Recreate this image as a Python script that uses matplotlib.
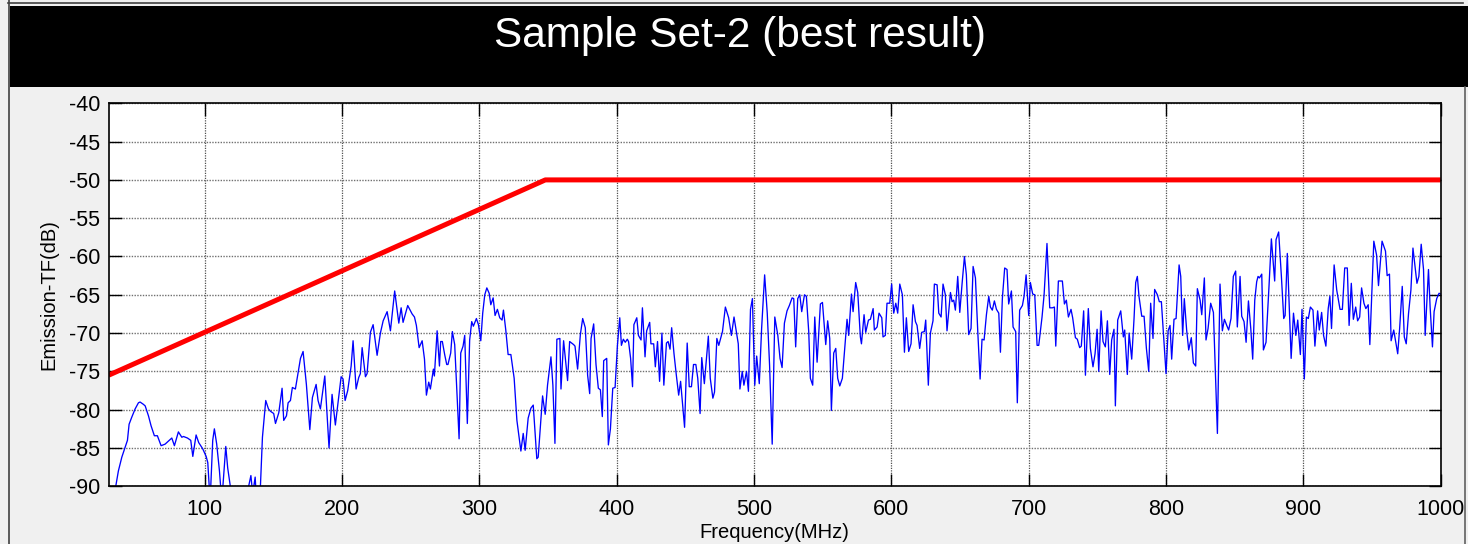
import matplotlib
matplotlib.use('Agg')
import matplotlib.pyplot as plt
from matplotlib.patches import Rectangle
from matplotlib.lines import Line2D

plt.rcParams['font.family'] = ['Liberation Sans', 'DejaVu Sans']
plt.rcParams['axes.unicode_minus'] = False

freq_mhz = [
    30.0, 32.5, 34.7, 37.1, 39.6, 42.0, 43.7, 44.9, 46.8, 49.3, 51.7, 52.9, 55.3, 56.6,
    59.0, 60.9, 63.3, 65.5, 68.2, 71.1, 76.0, 77.9, 80.8, 83.3, 84.5, 87.4, 89.8, 91.3,
    93.7, 95.6, 98.5, 101.0, 102.2, 103.9, 105.8, 107.0, 108.7, 110.7, 112.4, 115.3,
    116.7, 118.4, 121.0, 125.0, 129.0, 132.3, 133.6, 134.9, 136.7, 137.4, 140.3, 142.0,
    144.4, 146.4,
    147.8, 150.2, 151.5, 153.9, 156.3, 157.5, 159.5, 160.7, 162.4, 163.8, 166.0, 167.2,
    169.7, 171.6, 174.0, 176.5, 178.4, 181.1, 182.5, 184.2, 187.4, 190.5, 192.7, 195.1,
    199.3, 200.7, 202.2, 204.1, 206.6, 208.0, 210.2, 212.1, 213.3, 214.6, 217.0, 218.2,
    220.6, 222.6, 225.5, 227.9, 229.9, 232.8, 235.2, 238.3, 241.3, 243.0, 244.4, 247.8,
    251.0, 252.7, 254.1, 256.1, 258.3, 260.0, 261.4, 263.1, 264.3, 266.5, 267.2, 269.2,
    270.9,
    271.8, 273.0, 274.7, 276.2, 277.1, 279.1, 280.3, 282.0, 283.5, 285.2, 286.4, 288.1,
    289.3, 291.2, 292.9, 294.4, 295.6, 297.8, 299.3, 301.0, 302.4, 303.9, 305.4, 307.1,
    308.3, 310.0, 311.4, 313.1, 314.8, 316.5, 317.5, 319.2, 320.9, 322.9, 325.3, 327.3,
    330.2, 331.9, 333.3, 335.5, 337.5, 339.2, 341.8, 342.8, 346.0, 347.9, 349.6, 352.1,
    353.5, 355.0, 356.4, 358.6, 359.4, 361.3, 363.3, 364.2, 365.7, 368.6, 369.6, 371.5,
    373.5, 375.2, 377.1, 378.8, 380.3, 381.3, 383.2, 384.9, 386.6, 388.1, 389.5, 390.5,
    392.7, 393.9, 395.4, 397.1, 398.8,
    400.5, 402.2, 403.4, 404.8, 406.2, 407.7, 408.6, 410.1, 411.5, 412.5, 414.6, 415.8,
    417.7, 418.7, 420.6, 421.8, 424.0, 424.9, 426.9, 428.1, 429.7, 431.2, 432.9, 434.3,
    436.2, 437.4, 438.8, 440.0, 441.7, 443.4, 445.1, 446.5, 449.4, 451.3, 452.8, 454.4,
    455.9, 457.6, 459.0, 460.7, 461.9, 463.8, 465.0, 466.7, 468.1, 470.0, 471.2, 472.9,
    474.3, 477.0, 479.1, 481.5, 483.5, 485.4, 487.3, 488.5, 489.7, 491.4, 492.6, 494.5,
    495.9, 497.4, 498.8, 500.5, 501.9, 503.8, 505.5, 507.7, 509.6, 511.3, 513.2, 515.1,
    517.3, 518.9, 520.4,
    522.1, 524.0, 525.7, 527.7, 528.9, 530.3, 531.8, 533.3, 534.7, 536.7, 538.1, 539.8,
    541.0, 542.7, 544.2, 545.9, 548.3, 549.8, 552.2, 553.6, 555.1, 556.3, 558.0, 559.5,
    560.9, 562.4, 564.3, 567.7, 568.9, 570.9, 572.1, 574.0, 575.5, 577.4, 578.2, 580.1,
    581.3, 583.3, 584.7, 586.7, 587.6, 589.6, 591.0, 593.0, 593.9, 595.6, 596.8, 598.8,
    600.2, 601.7, 603.2, 604.6, 606.1, 608.0, 609.5, 610.9, 612.6, 614.3, 615.8, 617.5,
    618.7, 620.6, 622.1, 624.0, 625.0, 626.9, 628.4, 630.3, 631.3, 633.3, 634.5, 636.2,
    637.6, 639.3, 640.5,
    643.0, 644.2, 645.4, 646.6, 648.3, 649.8, 651.5, 653.2, 654.6, 656.3, 658.0, 659.5,
    661.2, 662.9, 664.6, 666.0, 667.5, 669.2, 670.9, 672.1, 673.5, 675.0, 676.5, 678.2,
    679.4, 680.8, 682.5, 684.2, 685.4, 687.4, 688.6, 690.5, 691.7, 693.4, 695.4, 696.6,
    698.1, 700.0, 701.2, 702.9, 704.4, 706.1, 707.3, 709.7, 711.2, 713.3, 715.3, 717.2,
    718.7, 719.7, 721.6, 724.5, 726.0, 727.4, 728.9, 730.8, 732.0, 734.0, 735.4, 737.1,
    738.3, 740.0, 741.3, 743.4, 744.9, 746.8, 748.3, 749.8, 751.0, 752.7, 754.1, 755.8,
    757.3, 759.0, 760.4, 762.1, 763.1, 764.8,
    767.0, 768.9, 769.9, 771.8, 773.1, 775.0, 776.7, 777.9, 779.1, 780.3, 782.3, 784.0,
    785.7, 787.4, 788.8, 790.5, 791.7, 793.7, 795.1, 796.6, 800.0, 801.5, 802.9, 804.1,
    805.8, 807.3, 809.5, 810.7, 812.1, 813.3, 815.0, 816.5, 818.4, 819.9, 821.6, 822.8,
    824.8, 826.0, 827.9, 829.1, 830.6, 832.5, 834.5, 837.4, 839.3, 841.0, 842.5, 844.2,
    845.6, 847.3, 849.0, 850.7, 851.9, 853.9, 855.1, 856.8, 858.3, 860.0, 861.7, 863.1,
    864.6, 866.0, 867.0, 868.0, 869.7, 870.9, 872.8, 875.0, 876.7, 879.1, 880.1, 882.0,
    884.0, 885.7, 886.7, 888.3,
    891.1, 892.8, 894.5, 895.9, 897.8, 899.0, 900.7, 902.2, 903.6, 905.1, 907.0, 908.4,
    910.4, 911.6, 913.3, 914.7, 916.4, 918.1, 919.3, 920.5, 922.4, 924.3, 926.7, 928.4,
    930.1, 932.0, 933.3, 934.9, 936.4, 938.1, 939.5, 941.0, 942.4, 944.1, 945.5, 947.2,
    948.4, 951.3, 953.3, 954.7, 957.3, 959.8, 961.0, 962.7, 963.9, 965.8, 968.7, 970.1,
    972.0, 973.5, 974.9, 976.6, 978.3, 979.8, 982.7, 984.1, 985.8, 987.5, 988.7, 991.1,
    992.3, 994.0, 995.2, 997.1, 998.8, 1000.0,
]
level_db = [
    -91.0, -91.0, -90.5, -88.0, -86.2, -84.9, -84.0, -81.9, -81.0, -79.9, -79.1, -79.0, -79.3, -79.5,
    -80.8, -82.1, -83.4, -83.4, -84.7, -84.5, -83.7, -84.7, -82.9, -83.6, -83.5, -83.7, -84.0, -86.1,
    -83.3, -84.3, -85.1, -86.1, -86.9, -92.0, -84.0, -82.5, -84.5, -88.0, -92.0, -84.8,
    -87.6, -89.7, -93.0, -95.0, -92.5, -89.7, -88.6, -91.0, -88.8, -91.0, -91.0, -83.6,
    -78.8, -79.9,
    -80.2, -80.5, -81.8, -80.4, -77.2, -81.4, -80.8, -79.1, -78.8, -77.1, -77.3, -76.0,
    -73.3, -72.4, -76.7, -82.6, -78.4, -76.7, -78.8, -79.9, -75.6, -85.0, -78.0, -82.0,
    -75.7, -76.0, -78.8, -77.5, -74.3, -71.0, -77.3, -75.8, -75.3, -71.9, -75.7, -75.3,
    -69.9, -68.9, -72.9, -70.0, -68.4, -67.2, -69.7, -64.5, -68.7, -66.7, -68.6, -66.4,
    -67.5, -67.9, -69.0, -71.9, -71.0, -73.4, -78.1, -76.4, -77.3, -74.7, -75.6, -69.7,
    -74.3,
    -71.1, -71.1, -72.8, -74.1, -74.1, -72.6, -69.8, -71.5, -77.2, -83.8, -72.6, -71.7,
    -70.3, -81.8, -70.9, -68.5, -69.1, -68.1, -68.9, -71.0, -67.4, -65.0, -64.1, -64.8,
    -66.3, -65.4, -67.7, -66.9, -68.0, -68.3, -67.0, -69.6, -72.8, -72.8, -75.9, -81.4,
    -85.4, -83.1, -85.3, -81.1, -79.8, -79.4, -86.4, -86.2, -78.2, -80.6, -76.8, -73.1,
    -76.8, -84.4, -70.8, -70.7, -77.3, -71.0, -74.6, -76.2, -71.1, -71.5, -71.7, -74.7,
    -70.2, -68.1, -69.3, -75.5, -77.9, -70.7, -68.8, -74.1, -77.2, -77.4, -80.9, -73.6,
    -73.3, -84.6, -82.5, -77.2, -77.1,
    -71.6, -68.0, -71.6, -70.8, -71.2, -70.8, -71.1, -73.3, -77.0, -68.9, -68.0, -70.3,
    -70.9, -66.7, -73.1, -69.7, -68.6, -71.4, -71.4, -74.4, -71.1, -76.3, -70.0, -76.8,
    -71.3, -71.1, -72.1, -69.3, -72.7, -75.5, -78.1, -76.3, -82.3, -71.3, -77.0, -77.0,
    -74.1, -74.1, -75.9, -80.5, -73.2, -76.6, -74.0, -70.4, -75.9, -78.5, -77.7, -70.7,
    -71.6, -69.8, -66.6, -68.0, -70.3, -67.9, -70.0, -71.4, -77.3, -75.0, -76.8, -75.0,
    -77.6, -66.9, -65.5, -76.8, -73.0, -76.6, -69.4, -62.4, -67.4, -74.2, -84.5, -67.9,
    -70.3, -73.3, -74.5,
    -68.7, -67.1, -66.4, -65.4, -65.5, -71.8, -65.5, -65.0, -67.2, -65.0, -65.2, -69.8,
    -75.9, -76.8, -67.9, -73.8, -66.2, -66.0, -71.5, -68.4, -70.7, -80.1, -72.6, -72.0,
    -75.9, -76.9, -75.9, -68.2, -70.3, -64.9, -67.2, -63.4, -64.7, -70.5, -71.4, -67.6,
    -69.9, -68.3, -68.2, -66.8, -69.6, -69.2, -67.4, -68.0, -70.5, -70.3, -66.1, -66.1,
    -63.6, -67.4, -66.1, -67.4, -63.6, -65.0, -72.5, -68.0, -72.4, -71.4, -66.3, -68.5,
    -69.0, -72.0, -69.9, -69.8, -68.3, -76.8, -70.0, -68.4, -63.6, -63.7, -67.4, -67.9,
    -63.6, -65.0, -69.7,
    -64.7, -65.9, -65.7, -67.0, -62.6, -67.3, -63.5, -60.0, -62.4, -70.2, -69.4, -61.3,
    -62.8, -69.8, -76.0, -70.8, -70.9, -67.6, -65.2, -66.6, -67.0, -65.8, -66.9, -67.4,
    -72.5, -65.5, -61.5, -61.7, -66.2, -64.5, -69.2, -69.8, -79.1, -67.0, -66.4, -65.2,
    -62.4, -67.7, -63.4, -64.9, -65.0, -71.6, -71.6, -67.9, -65.0, -58.3, -66.7, -66.7,
    -66.6, -71.7, -63.2, -63.2, -66.2, -65.7, -67.9, -66.9, -68.0, -70.6, -70.8, -71.9,
    -71.7, -67.1, -75.5, -66.8, -72.0, -74.4, -72.7, -69.5, -75.0, -67.1, -71.1, -71.8,
    -68.4, -75.4, -70.9, -69.5, -79.5, -68.3,
    -67.1, -70.5, -69.6, -75.4, -70.0, -73.4, -68.1, -63.4, -62.6, -65.2, -67.8, -67.8,
    -72.0, -75.0, -66.1, -70.7, -64.3, -65.0, -65.9, -65.9, -75.3, -69.7, -69.0, -73.4,
    -68.2, -68.1, -61.1, -62.6, -70.3, -65.5, -69.6, -72.2, -70.6, -73.9, -74.3, -64.2,
    -65.7, -67.6, -62.8, -70.9, -69.4, -66.1, -67.3, -83.1, -63.6, -69.7, -68.2, -69.0,
    -69.6, -68.1, -62.6, -61.9, -69.2, -62.6, -67.8, -68.5, -71.2, -65.8, -69.4, -73.4,
    -65.7, -63.3, -62.6, -62.8, -62.3, -72.2, -71.2, -63.8, -57.7, -63.2, -57.8, -56.8,
    -62.6, -68.1, -67.7, -59.6,
    -73.3, -67.4, -70.3, -68.3, -72.8, -66.9, -76.0, -67.9, -68.1, -66.6, -67.0, -71.7,
    -67.1, -69.6, -67.3, -70.3, -71.7, -66.8, -65.2, -69.4, -61.1, -64.4, -66.9, -66.9,
    -61.5, -61.5, -69.0, -63.5, -68.2, -66.6, -68.4, -67.9, -64.1, -66.1, -66.8, -66.3,
    -71.5, -58.0, -59.8, -63.8, -58.0, -59.3, -62.5, -62.3, -71.0, -69.6, -72.7, -69.4,
    -63.9, -70.5, -71.4, -67.4, -64.4, -58.9, -63.5, -62.6, -58.4, -61.7, -70.3, -61.7,
    -66.6, -71.8, -67.2, -65.5, -64.8, -64.9,
]

# limit line
limit_freq = [30, 348, 1000]
limit_db = [-75.5, -50, -50]

x_ticks = list(range(100, 1001, 100))
y_ticks = list(range(-90, -39, 5))

fig = plt.figure(figsize=(14.68, 5.44), dpi=100, facecolor='#f0f0f0')

# window frame and black title strip
fig.add_artist(Rectangle((10 / 1468, 457 / 544), 1 - 10 / 1468, 81 / 544,
                         transform=fig.transFigure, facecolor='black', edgecolor='none'))
fig.add_artist(Line2D([8 / 1468, 1463 / 1468], [541 / 544, 541 / 544],
                      transform=fig.transFigure, color='#404040', lw=1.2))
fig.add_artist(Line2D([9 / 1468, 9 / 1468], [0, 1], transform=fig.transFigure,
                      color='#404040', lw=1.2))
fig.add_artist(Line2D([1465 / 1468, 1465 / 1468], [0, 457 / 544], transform=fig.transFigure,
                      color='#606060', lw=1.2))
fig.text(0.504, 0.934, 'Sample Set-2 (best result)', color='white', fontsize=30.5,
         ha='center', va='center')

ax = fig.add_axes([0.0740, 0.1061, 0.9074, 0.7040])
ax.set_facecolor('white')
ax.plot(freq_mhz, level_db, color='#0000ff', lw=0.95)
ax.plot(limit_freq, limit_db, color='#ff0000', lw=3.6, solid_capstyle='butt')

ax.set_xlim(30, 1000)
ax.set_ylim(-90, -40)
ax.set_xticks(x_ticks)
ax.set_yticks(y_ticks)
ax.xaxis.grid(True, color='#505050', linestyle=(0, (1, 1)), linewidth=0.9)
ax.yaxis.grid(True, color='#707070', linestyle=(0, (1, 1)), linewidth=1.0)
ax.set_axisbelow(True)
ax.tick_params(direction='in', length=9, width=1, top=True, right=True,
               labelsize=15.5)
ax.tick_params(axis='x', pad=9)
ax.tick_params(axis='y', pad=6)
for sp in ax.spines.values():
    sp.set_linewidth(1.2)
    sp.set_color('black')

ax.set_xlabel('Frequency(MHz)', fontsize=14.5)
ax.set_ylabel('Emission-TF(dB)', fontsize=14.5)
ax.xaxis.set_label_coords(0.5, -0.097)
ax.yaxis.set_label_coords(-0.038, 0.5)

fig.savefig('out.png', dpi=100, facecolor=fig.get_facecolor())
